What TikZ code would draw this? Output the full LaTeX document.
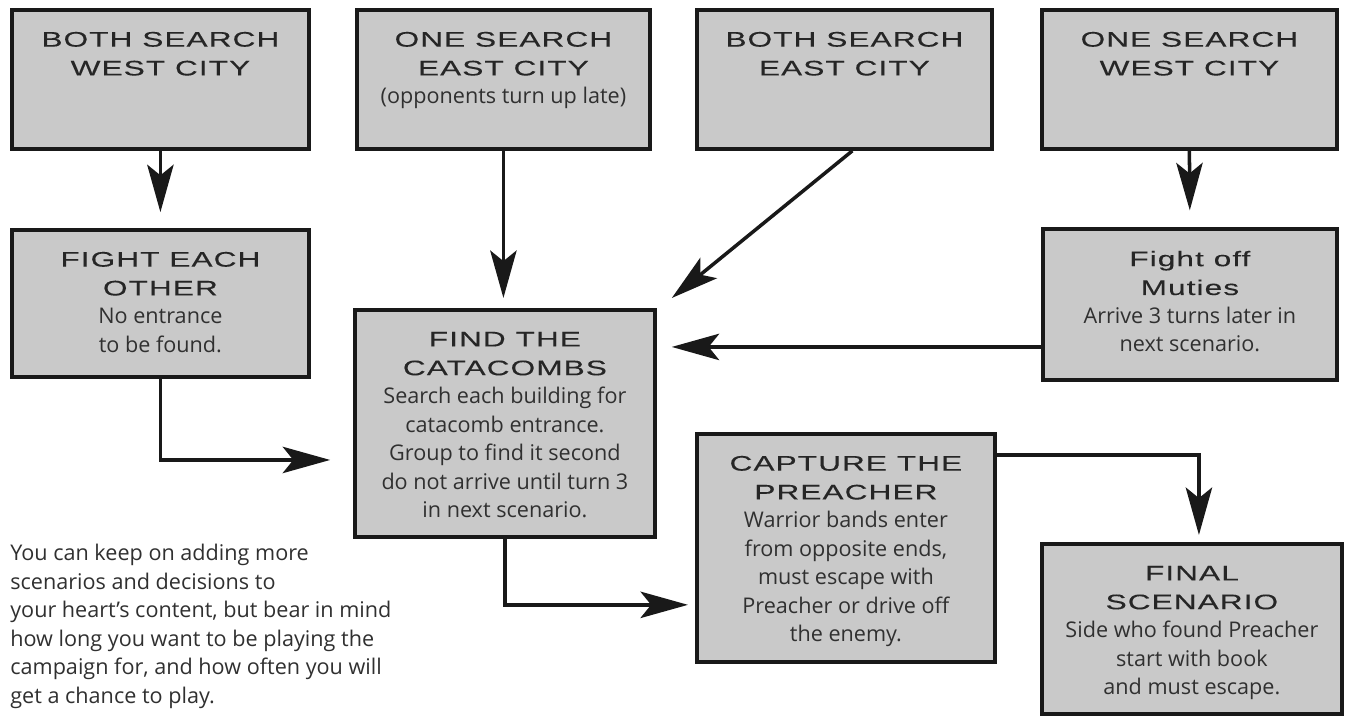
\documentclass[tikz,border=0pt]{standalone}
\usepackage{fontspec}
\setmainfont{Open Sans}
\newfontfamily\headfont[FakeStretch=1.5,LetterSpace=5,FakeBold=0.15]{Liberation Sans}
\usetikzlibrary{arrows.meta}

\definecolor{cardgrey}{RGB}{201,201,201}
\definecolor{inkgrey}{RGB}{48,48,48}

\newcommand{\head}{\headfont\fontsize{12pt}{16.4pt}\selectfont\color{black!85}}
\newcommand{\body}{\normalfont\fontsize{12.3pt}{16.2pt}\selectfont\color{inkgrey}}
\newcommand{\cardtext}[3]{\parbox[t][#2][t]{#1}{\centering\vspace*{12.5pt}#3}}

\begin{document}
\begin{tikzpicture}[x=0.02cm,y=-0.02cm,
    card/.style ={draw=black!90, line width=2.2pt, fill=cardgrey, inner sep=0pt, anchor=north west},
    flow/.style ={line width=2pt, draw=black!90, -{Stealth[length=27pt,width=15pt,inset=6pt]}}]
   \useasboundingbox (0,0) rectangle (1346,717);
   % top row
   \node[card] (b1) at (10,8)    {\cardtext{5.94cm}{2.78cm}{\head BOTH SEARCH\\WEST CITY}};
   \node[card] (b2) at (355,8)   {\cardtext{5.86cm}{2.78cm}{\head ONE SEARCH\\EAST CITY\par\body (opponents turn up late)}};
   \node[card] (b3) at (695,8)   {\cardtext{5.90cm}{2.78cm}{\head BOTH SEARCH\\EAST CITY}};
   \node[card] (b4) at (1040,8)  {\cardtext{5.90cm}{2.78cm}{\head ONE SEARCH\\WEST CITY}};
   % middle
   \node[card] (b5) at (10,228)  {\cardtext{5.94cm}{2.94cm}{\head FIGHT EACH\\OTHER\par\body No entrance\\to be found.}};
   \node[card] (b6) at (353,308) {\cardtext{6.00cm}{4.54cm}{\head FIND THE\\CATACOMBS\par\body Search each building for\\catacomb entrance.\\Group to find it second\\do not arrive until turn 3\\in next scenario.}};
   \node[card] (b7) at (1041,227) {\cardtext{5.88cm}{3.02cm}{\head Fight off\\Muties\par\body Arrive 3 turns later in\\next scenario.}};
   % bottom
   \node[card] (b8) at (695,432) {\cardtext{5.96cm}{4.56cm}{\head CAPTURE THE\\PREACHER\par\body Warrior bands enter\\from opposite ends,\\must escape with\\Preacher or drive off\\the enemy.}};
   \node[card] (b9) at (1040,542) {\cardtext{6.00cm}{3.40cm}{\head FINAL\\SCENARIO\par\body Side who found Preacher\\start with book\\and must escape.}};
   \node[anchor=north west, inner sep=0pt, align=left, font=\body] (remark) at (10,544)
      {You can keep on adding more\\scenarios and decisions to\\your heart's content, but bear in mind\\how long you want to be playing the\\campaign for, and how often you will\\get a chance to play.};
   % arrows
   \draw[flow, shorten >=9pt] (b1.south) -- (b5.north);
   \draw[flow, shorten >=5.7pt] (b2.south) -- (b2.south |- b6.north);
   \draw[flow] ([xshift=4.5pt]b3.south) -- ([shift={(15,-10)}]b6.north east);
   \draw[flow, shorten >=9.5pt] (b4.south) -- (b7.north);
   \draw[flow, shorten >=8.5pt] ([yshift=-24.2pt]b7.west) -- ([yshift=-24.2pt]b7.west -| b6.east);
   \draw[flow, shorten >=13pt] (b5.south) |- ([yshift=-20.8pt]b6.west);
   \draw[flow, shorten >=4pt] (b6.south) |- ([yshift=-32.4pt]b8.west);
   \draw[flow, shorten >=4pt] ([yshift=-13pt]b8.north east) -| ([xshift=4pt]b9.north);
\end{tikzpicture}
\end{document}
